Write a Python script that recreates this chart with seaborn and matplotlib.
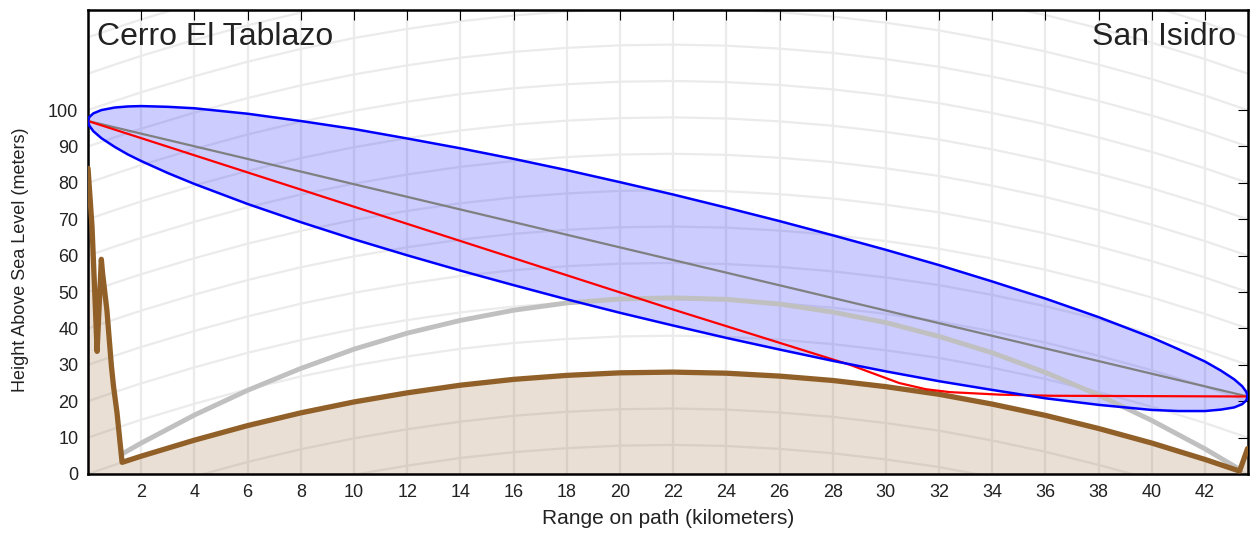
import matplotlib
matplotlib.use('Agg')
import matplotlib.pyplot as plt
import numpy as np
import pandas as pd
import seaborn as sns

# Path endpoints
site_a = 'Cerro El Tablazo'
site_b = 'San Isidro'

# Earth bulge (4/3 earth), km -> m
bulge_km = [0, 1, 2, 4, 6, 8, 10, 12, 14, 16, 18, 20, 22, 24, 26, 28, 30, 32, 34, 36, 38, 40, 42, 43, 43.62]
bulge_m = [0, 2.5, 4.9, 9.3, 13.3, 16.8, 19.8, 22.3, 24.4, 26.0, 27.1, 27.8, 28.0, 27.7, 26.9, 25.7, 24.0, 21.9, 19.2, 16.1, 12.5, 8.5, 4.0, 1.5, 0]

# Terrain profile (brown)
terrain_km = [0, 0.15, 0.28, 0.34, 0.43, 0.5, 0.55, 0.71, 0.88, 0.96, 1.09, 1.28, 2, 4, 6, 8, 10, 12, 14, 16, 18, 20, 22,
              24, 26, 28, 30, 32, 34, 36, 38, 40, 42, 43.3, 43.6]
terrain_m = [84, 68, 45, 33.7, 48, 59, 55, 45, 29.6, 24, 16.8, 3.2, 4.9, 9.3, 13.3, 16.8, 19.8, 22.3, 24.4, 26.0, 27.1, 27.8, 28.0,
             27.7, 26.9, 25.7, 24.0, 21.9, 19.2, 16.1, 12.5, 8.5, 4.0, 0.8, 7]

# Terrain with minimum k factor (light grey)
kmin_km = [1.3, 2, 4, 6, 8, 10, 12, 14, 16, 18, 20, 22, 24, 26, 28, 30, 32, 34, 36, 38, 40, 42, 43.3]
kmin_m = [5.6, 8.5, 16.2, 23.0, 29.0, 34.3, 38.7, 42.2, 45.0, 47.0, 48.1, 48.4, 48.0, 46.7, 44.5, 41.6, 37.8, 33.3, 27.9, 21.7, 14.7, 6.9, 1.3]

# Line of sight (grey)
los_km = [0, 43.6]
los_m = [97, 21.3]

# Red path
red_km = [0, 22, 28.65, 30.5, 31.5, 32.4, 34.3, 36.2, 43.6]
red_m = [97, 45.2, 30.0, 25.0, 23.3, 22.5, 21.8, 21.5, 21.3]

# Fresnel zone edges
fz_km = [0, 0.05, 0.2, 0.5, 1, 1.5, 2, 3, 4, 6, 8, 10, 12, 14, 16, 18, 20, 22, 24, 26, 28, 30, 32, 34, 36, 38, 40, 41, 42,
         42.6, 43.1, 43.4, 43.55, 43.6]
fz_upper = [97, 98.1, 99.1, 100.0, 100.7, 101.0, 101.1, 100.9, 100.5, 99.0, 97.0, 94.8, 92.2, 89.5, 86.6, 83.5, 80.2, 76.8,
            73.2, 69.5, 65.6, 61.6, 57.4, 52.9, 48.2, 43.1, 37.5, 34.3, 30.9, 28.4, 26.0, 24.1, 22.6, 21.3]
fz_lower = [97, 95.7, 94.2, 92.3, 89.9, 87.8, 86.0, 82.7, 79.7, 74.2, 69.2, 64.5, 60.1, 55.9, 51.9, 48.0, 44.3, 40.8,
            37.4, 34.2, 31.1, 28.2, 25.5, 23.1, 20.8, 19.0, 17.6, 17.3, 17.3, 17.7, 18.3, 19.2, 20.2, 21.3]

x_ticks = list(range(2, 43, 2))
y_ticks = list(range(0, 101, 10))
grid_levels = list(range(-30, 130, 10))

sns.set_style(style='white')
plt.rcParams['font.family'] = ['Liberation Sans', 'DejaVu Sans']

fig = plt.figure(figsize=(12.54, 5.33), dpi=100)
ax = fig.add_axes([0.0702, 0.1107, 0.9251, 0.8705])

grid_col = '#ebebeb'
# vertical grid
for xt in x_ticks:
    ax.axvline(xt, color=grid_col, lw=1.6, zorder=0)
# curved horizontal grid following the earth bulge
bulge = np.array(bulge_m)
for c in grid_levels:
    ax.plot(bulge_km, c + bulge, color=grid_col, lw=1.6, zorder=0)

# terrain fill
ax.fill_between(terrain_km, 0, terrain_m, color='#915f2a', alpha=0.2, lw=0, zorder=1)

# fresnel zone fill
ax.fill_between(fz_km, fz_lower, fz_upper, color='#0000ff', alpha=0.2, lw=0, zorder=2)

terrain = pd.DataFrame({'km': terrain_km, 'm': terrain_m})
kmin = pd.DataFrame({'km': kmin_km, 'm': kmin_m})
los = pd.DataFrame({'km': los_km, 'm': los_m})
red = pd.DataFrame({'km': red_km, 'm': red_m})

sns.lineplot(data=kmin, x='km', y='m', color='#c0c0c0', lw=3.5, sort=False, ax=ax, zorder=3)
sns.lineplot(data=terrain, x='km', y='m', color='#916028', lw=3.8, sort=False, ax=ax, zorder=4)
sns.lineplot(data=los, x='km', y='m', color='#808080', lw=1.6, sort=False, ax=ax, zorder=5)
sns.lineplot(data=red, x='km', y='m', color='#ff0000', lw=1.6, sort=False, ax=ax, zorder=6)
ax.plot(fz_km, fz_upper, color='#0000ff', lw=1.8, zorder=7)
ax.plot(fz_km, fz_lower, color='#0000ff', lw=1.8, zorder=7)

ax.set_xlim(0, 43.62)
ax.set_ylim(0, 127.5)
ax.set_xticks(x_ticks)
ax.set_yticks(y_ticks)
ax.tick_params(direction='in', length=7, width=0.8, top=True, right=True, labelsize=13, colors='black', pad=7)
ax.tick_params(labelcolor='#222222')

for s in ax.spines.values():
    s.set_linewidth(1.8)
    s.set_color('black')

# Label the axes
ax.set_xlabel('Range on path (kilometers)', fontsize=15, labelpad=6, color='#222222')
ax.set_ylabel('Height Above Sea Level (meters)', fontsize=13, color='#222222')
ax.yaxis.set_label_coords(-0.051, 0.461)

ax.text(0.008, 0.975, site_a, transform=ax.transAxes, ha='left', va='top', fontsize=23, color='#222222')
ax.text(0.99, 0.975, site_b, transform=ax.transAxes, ha='right', va='top', fontsize=23, color='#222222')

fig.savefig('out.png', dpi=100)
